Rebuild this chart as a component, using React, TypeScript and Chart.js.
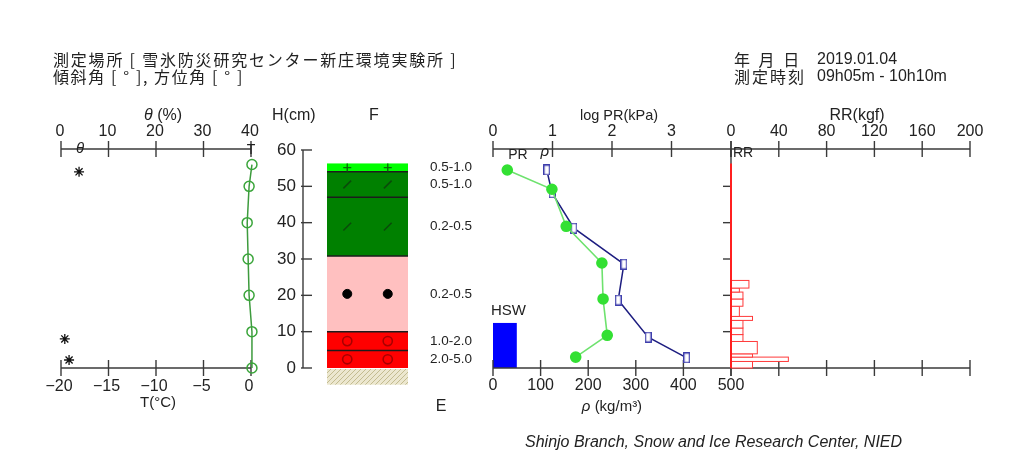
import React, { useEffect, useRef } from "react";
import { Chart, registerables } from "chart.js";

Chart.register(...registerables);

// ---------------- data ----------------
const tempHeights = [0, 10, 20, 30, 40, 50, 56];
const tempValues = [0.1, 0.1, -0.2, -0.3, -0.4, -0.2, 0.1];

const thetaHeights = [54, 8, 2.2];
const thetaValues = [3.8, 0.8, 1.7];

const densityHeights = [54.5, 48.2, 38.5, 28.6, 18.7, 8.5, 2.8];
const densityValues = [113, 124, 170, 275, 263, 326, 407];

const prHeights = [54.5, 49.2, 39.0, 28.9, 19.0, 9.0, 3.0];
const logPrValues = [0.24, 0.99, 1.23, 1.83, 1.85, 1.92, 1.39];

const layerBoundaries = [0, 4.8, 10, 30.8, 47, 54, 56.3];
const layerTypes = ["granular", "granular", "compacted", "decomposed", "decomposed", "new"];
const grainSizes = ["2.0-5.0", "1.0-2.0", "0.2-0.5", "0.2-0.5", "0.5-1.0", "0.5-1.0"];

const ramBoundaries = [0, 1.8, 3.0, 3.9, 7.3, 9.2, 11.0, 13.1, 14.2, 17.0, 19.0, 20.9, 22.0, 24.1];
const ramValues = [18, 48, 18, 22, 10, 10, 10, 18, 7, 10, 10, 7, 15];

const hswValues = [12.4];

const tTicks = [-20, -15, -10, -5, 0];
const thetaTicks = [0, 10, 20, 30, 40];
const hTicks = [0, 10, 20, 30, 40, 50, 60];
const densityTicks = [0, 100, 200, 300, 400, 500];
const prTicks = [0, 1, 2, 3, 4];
const ramTicks = [0, 40, 80, 120, 160, 200];

// ---------------- styles / layout ----------------
const PANEL_PX: Record<string, [number, number]> = {
  xT: [61, 251],
  xTheta: [61, 251],
  xF: [327, 408],
  xRho: [493, 731],
  xPR: [493, 731],
  xRR: [731, 970],
};
const H_AXIS_X = 303;
const GROUND_DEPTH = 4.6;
const HSW_BAR_WIDTH = 50; // in density units
const SYMBOL_POS = [0.25, 0.75];
const AXIS_COLOR = "#3a3a3a";
const TEXT_COLOR = "#222";
const SANS = '"Liberation Sans", Arial, sans-serif';
const CJK = '"Noto Sans CJK JP", sans-serif';
const TICK_FONT = `16px ${SANS}`;

const LAYER_STYLE: Record<string, { fill: string; sym: string; color: string }> = {
  new: { fill: "#00ff00", sym: "cross", color: "#0a6a0a" },
  decomposed: { fill: "#008000", sym: "slash", color: "#0a4a0a" },
  compacted: { fill: "#ffc0c0", sym: "dot", color: "#000000" },
  granular: { fill: "#ff0000", sym: "ring", color: "#a80000" },
};

function makeRectMarker() {
  const c = document.createElement("canvas");
  c.width = 7;
  c.height = 11;
  const g = c.getContext("2d")!;
  g.fillStyle = "#ffffff";
  g.fillRect(0, 0, 7, 11);
  g.strokeStyle = "#3535a8";
  g.lineWidth = 1.3;
  g.strokeRect(0.7, 0.7, 5.6, 9.6);
  return c;
}

function makeHatch(ctx: CanvasRenderingContext2D) {
  const c = document.createElement("canvas");
  c.width = 5;
  c.height = 5;
  const g = c.getContext("2d")!;
  g.fillStyle = "#ece7cf";
  g.fillRect(0, 0, 5, 5);
  g.strokeStyle = "#c3bc90";
  g.lineWidth = 1;
  g.beginPath();
  g.moveTo(0, 5);
  g.lineTo(5, 0);
  g.stroke();
  return ctx.createPattern(c, "repeat");
}

const panelPlugin = {
  id: "panels",
  afterLayout(chart: any) {
    for (const id of Object.keys(PANEL_PX)) {
      const s = chart.scales[id];
      if (!s) continue;
      const [l, r] = PANEL_PX[id];
      s.left = l;
      s.right = r;
      s.width = r - l;
      s.configure();
    }
  },
};

function line(ctx: CanvasRenderingContext2D, x0: number, y0: number, x1: number, y1: number) {
  ctx.beginPath();
  ctx.moveTo(x0, y0);
  ctx.lineTo(x1, y1);
  ctx.stroke();
}

function text(ctx: CanvasRenderingContext2D, s: string, x: number, y: number, font: string, align: CanvasTextAlign = "center") {
  ctx.font = font;
  ctx.textAlign = align;
  ctx.textBaseline = "middle";
  ctx.fillStyle = TEXT_COLOR;
  ctx.fillText(s, x, y);
}

const fmtMinus = (v: number) => (v < 0 ? "\u2212" + Math.abs(v) : String(v));

const decorPlugin = {
  id: "decor",
  beforeDatasetsDraw(chart: any) {
    const ctx: CanvasRenderingContext2D = chart.ctx;
    const S = chart.scales;
    const Y = (v: number) => S.y.getPixelForValue(v);
    const X = (id: string, v: number) => S[id].getPixelForValue(v);
    const yTop = Y(60) - 1;
    const yBot = Y(0);
    ctx.save();

    // ---- snow layers ----
    const fl = X("xF", 0);
    const fr = X("xF", 1);
    layerTypes.forEach((t, i) => {
      const top = Y(layerBoundaries[i + 1]);
      const bot = Y(layerBoundaries[i]);
      ctx.fillStyle = LAYER_STYLE[t].fill;
      ctx.fillRect(fl, top, fr - fl, bot - top);
    });
    ctx.strokeStyle = "#1c1c1c";
    ctx.lineWidth = 1.5;
    for (let i = 1; i < layerBoundaries.length - 1; i++) {
      const yy = Y(layerBoundaries[i]);
      line(ctx, fl, yy, fr, yy);
    }
    // ground
    const pat = makeHatch(ctx);
    if (pat) ctx.fillStyle = pat;
    ctx.fillRect(fl, yBot + 1, fr - fl, Y(-GROUND_DEPTH) - yBot - 1);
    // grain size labels
    layerTypes.forEach((_, i) => {
      const mid = (layerBoundaries[i] + layerBoundaries[i + 1]) / 2;
      text(ctx, grainSizes[i], fr + 22, Y(mid), `13.5px ${SANS}`, "left");
    });

    // ---- HSW ----
    hswValues.forEach((h) => {
      const x0 = X("xRho", 0);
      const x1 = X("xRho", HSW_BAR_WIDTH);
      ctx.fillStyle = "#0000ff";
      ctx.fillRect(x0, Y(h), x1 - x0, yBot - Y(h));
      text(ctx, "HSW", x0 - 2, Y(h) - 12, `15px ${SANS}`, "left");
    });

    ctx.strokeStyle = AXIS_COLOR;
    ctx.lineWidth = 1.4;

    // ---- temperature (bottom) axis ----
    line(ctx, X("xT", -20), yBot, X("xT", 0), yBot);
    tTicks.forEach((v) => {
      const x = X("xT", v);
      line(ctx, x, yBot - 8, x, yBot + 8);
      text(ctx, fmtMinus(v), x - 2, yBot + 19, TICK_FONT);
    });
    // ---- theta (top) axis ----
    line(ctx, X("xTheta", 0), yTop, X("xTheta", 40), yTop);
    thetaTicks.forEach((v) => {
      const x = X("xTheta", v);
      line(ctx, x, yTop - 8, x, yTop + 8);
      text(ctx, String(v), x - 1, yTop - 17, TICK_FONT);
    });
    text(ctx, "\u03b8", X("xTheta", 4), yTop, `italic 15px ${SANS}`);
    text(ctx, "T", X("xT", 0), yTop + 1, `14px ${SANS}`);

    // ---- height axis ----
    line(ctx, H_AXIS_X, Y(60), H_AXIS_X, Y(0));
    hTicks.forEach((v) => {
      const yy = Y(v);
      line(ctx, H_AXIS_X - 2, yy, H_AXIS_X + 9, yy);
      text(ctx, String(v), H_AXIS_X - 7, yy, `17px ${SANS}`, "right");
    });

    // ---- density / RR bottom axis ----
    line(ctx, X("xRho", 0), yBot, X("xRR", 200), yBot);
    densityTicks.forEach((v) => {
      const x = X("xRho", v);
      line(ctx, x, yBot - 8, x, yBot + 8);
      text(ctx, String(v), x, yBot + 18, TICK_FONT);
    });
    ramTicks.forEach((v) => {
      const x = X("xRR", v);
      line(ctx, x, yBot - 8, x, yBot + 8);
    });
    // ---- PR / RR top axis ----
    line(ctx, X("xPR", 0), yTop, X("xRR", 200), yTop);
    prTicks.forEach((v) => {
      const x = X("xPR", v);
      line(ctx, x, yTop - 8, x, yTop + 8);
      if (v < 4) text(ctx, String(v), x, yTop - 17, TICK_FONT);
    });
    ramTicks.forEach((v) => {
      const x = X("xRR", v);
      line(ctx, x, yTop - 8, x, yTop + 8);
      text(ctx, String(v), x, yTop - 17, TICK_FONT);
    });
    text(ctx, "PR", X("xPR", 0.42), yTop + 6, `14px ${SANS}`);
    text(ctx, "\u03c1", X("xPR", 0.87), yTop + 3, `italic 15px ${SANS}`);

    // ---- RR panel ----
    const r0 = X("xRR", 0);
    line(ctx, r0, yTop, r0, yBot);
    hTicks.forEach((v) => {
      if (v === 0 || v === 60) return;
      line(ctx, r0 - 8, Y(v), r0, Y(v));
    });
    ramValues.forEach((v, i) => {
      const top = Y(ramBoundaries[i + 1]);
      const bot = Y(ramBoundaries[i]);
      const x1 = X("xRR", v);
      ctx.fillStyle = "#ffffff";
      ctx.fillRect(r0, top, x1 - r0, bot - top);
      ctx.strokeStyle = "#ff3a3a";
      ctx.lineWidth = 1;
      ctx.strokeRect(r0, top, x1 - r0, bot - top);
    });
    ctx.strokeStyle = "#ff2020";
    ctx.lineWidth = 2;
    line(ctx, r0, yBot, r0, Y(layerBoundaries[layerBoundaries.length - 1]));
    text(ctx, "RR", r0 + 12, yTop + 4, `14px ${SANS}`);

    ctx.restore();
  },
};

function buildConfig(rectMarker: HTMLCanvasElement): any {
  const symbolSets: Record<string, { x: number; y: number }[]> = {};
  layerTypes.forEach((t, i) => {
    const mid = (layerBoundaries[i] + layerBoundaries[i + 1]) / 2;
    symbolSets[t] = symbolSets[t] || [];
    SYMBOL_POS.forEach((p) => symbolSets[t].push({ x: p, y: mid }));
  });
  const symStyle = (t: string) => {
    const st = LAYER_STYLE[t];
    switch (st.sym) {
      case "cross":
        return { pointStyle: "cross", pointRadius: 4, pointBorderColor: st.color, pointBorderWidth: 1.4 };
      case "slash":
        return { pointStyle: "line", rotation: -45, pointRadius: 5.5, pointBorderColor: st.color, pointBorderWidth: 1.6 };
      case "dot":
        return { pointStyle: "circle", pointRadius: 4.5, pointBackgroundColor: st.color, pointBorderColor: st.color, pointBorderWidth: 1 };
      default:
        return { pointStyle: "circle", pointRadius: 4.6, pointBackgroundColor: "rgba(0,0,0,0)", pointBorderColor: st.color, pointBorderWidth: 1.6 };
    }
  };

  const datasets: any[] = [
    {
      label: "T",
      xAxisID: "xT",
      data: tempHeights.map((h, i) => ({ x: tempValues[i], y: h })),
      showLine: true,
      borderColor: "#3d9b3d",
      borderWidth: 1.5,
      pointStyle: "circle",
      pointRadius: 5,
      pointBackgroundColor: "rgba(0,0,0,0)",
      pointBorderColor: "#3aa53a",
      pointBorderWidth: 1.5,
      clip: false,
    },
    {
      label: "theta",
      xAxisID: "xTheta",
      data: thetaHeights.map((h, i) => ({ x: thetaValues[i], y: h })),
      showLine: false,
      pointStyle: "star",
      pointRadius: 5,
      pointBorderColor: "#111",
      pointBorderWidth: 1.3,
      clip: false,
    },
    {
      label: "PR",
      xAxisID: "xPR",
      data: prHeights.map((h, i) => ({ x: logPrValues[i], y: h })),
      showLine: true,
      borderColor: "#6ee26e",
      borderWidth: 1.6,
      pointStyle: "circle",
      pointRadius: 5,
      pointBackgroundColor: "#33e033",
      pointBorderColor: "#33e033",
      clip: false,
    },
    {
      label: "rho",
      xAxisID: "xRho",
      data: densityHeights.map((h, i) => ({ x: densityValues[i], y: h })),
      showLine: true,
      borderColor: "#1d1d80",
      borderWidth: 1.5,
      pointStyle: rectMarker,
      clip: false,
    },
  ];
  Object.keys(symbolSets).forEach((t) => {
    datasets.push({ label: t, xAxisID: "xF", data: symbolSets[t], showLine: false, clip: false, ...symStyle(t) });
  });

  const xScale = (min: number, max: number) => ({ type: "linear", axis: "x", position: "bottom", min, max, display: false });

  return {
    type: "scatter",
    data: { datasets },
    options: {
      responsive: false,
      animation: false,
      events: [],
      layout: { padding: { left: 61, right: 1014 - 970, top: 150, bottom: 462 - 368 } },
      plugins: { legend: { display: false }, tooltip: { enabled: false } },
      scales: {
        x: xScale(0, 1),
        xT: xScale(-20, 0),
        xTheta: xScale(0, 40),
        xF: xScale(0, 1),
        xRho: xScale(0, 500),
        xPR: xScale(0, 4),
        xRR: xScale(0, 200),
        y: { type: "linear", axis: "y", min: 0, max: 60, display: false },
      },
    },
    plugins: [panelPlugin, decorPlugin],
  };
}

type TxtProps = {
  x: number;
  y: number;
  size?: number;
  font?: string;
  align?: "left" | "center";
  italic?: boolean;
  spacing?: number;
  children: React.ReactNode;
};

function Txt({ x, y, size = 16, font = SANS, align = "left", italic, spacing, children }: TxtProps) {
  return (
    <div
      style={{
        position: "absolute",
        left: x,
        top: y,
        transform: align === "center" ? "translate(-50%, -50%)" : "translate(0, -50%)",
        fontFamily: font,
        fontSize: size,
        fontStyle: italic ? "italic" : "normal",
        lineHeight: 1,
        whiteSpace: "pre",
        letterSpacing: spacing,
        color: TEXT_COLOR,
      }}
    >
      {children}
    </div>
  );
}

export default function App() {
  const ref = useRef<HTMLCanvasElement>(null);
  useEffect(() => {
    const canvas = ref.current;
    if (!canvas) return;
    const chart = new Chart(canvas, buildConfig(makeRectMarker()));
    return () => chart.destroy();
  }, []);

  return (
    <div style={{ position: "absolute", left: 0, top: 0, width: 1014, height: 462, background: "#fff", overflow: "hidden" }}>
      <canvas ref={ref} width={1014} height={462} style={{ position: "absolute", left: 0, top: 0, width: 1014, height: 462 }} />
      <Txt x={53} y={59} font={CJK} spacing={1.8}>測定場所 [ 雪氷防災研究センター新庄環境実験所 ]</Txt>
      <Txt x={53} y={76} font={CJK} spacing={1.6}>傾斜角 [ ° ], 方位角 [ ° ]</Txt>
      <Txt x={734} y={59} font={CJK} spacing={2.5}>年 月 日</Txt>
      <Txt x={817} y={59}>2019.01.04</Txt>
      <Txt x={734} y={76} font={CJK} spacing={2}>測定時刻</Txt>
      <Txt x={817} y={76}>09h05m - 10h10m</Txt>

      <Txt x={163} y={115} align="center">
        <i>θ</i> (%)
      </Txt>
      <Txt x={272} y={115}>H(cm)</Txt>
      <Txt x={374} y={115} align="center">F</Txt>
      <Txt x={619} y={115} align="center" size={14.5}>log PR(kPa)</Txt>
      <Txt x={857} y={115} align="center">RR(kgf)</Txt>
      <Txt x={158} y={401} align="center" size={15}>T(°C)</Txt>
      <Txt x={612} y={405} align="center" size={15}>
        <i>ρ</i> (kg/m³)
      </Txt>
      <Txt x={441} y={406} align="center">E</Txt>
      <Txt x={525} y={442} italic>Shinjo Branch, Snow and Ice Research Center, NIED</Txt>
    </div>
  );
}
